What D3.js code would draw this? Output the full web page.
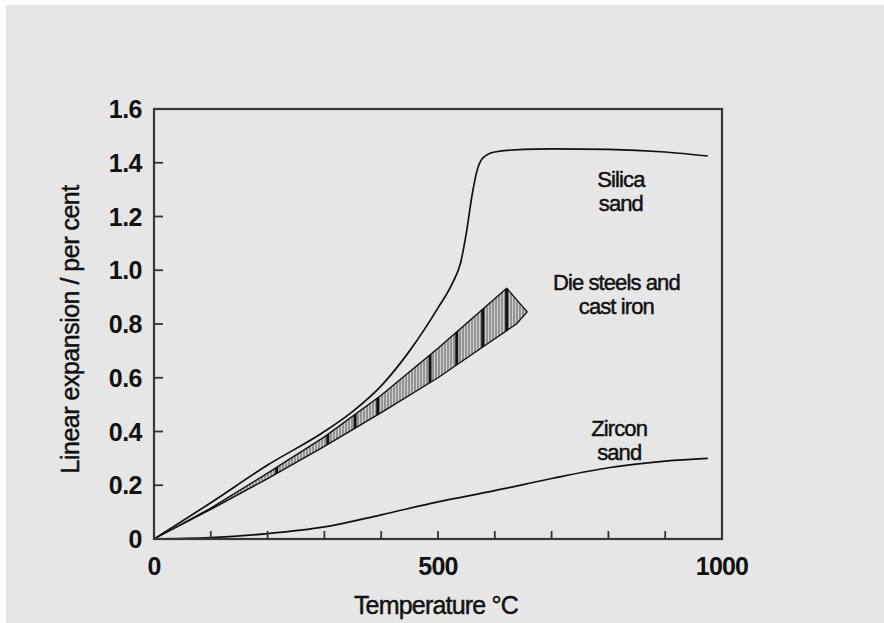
<!DOCTYPE html>
<html>
<head>
<meta charset="utf-8">
<script src="https://cdn.jsdelivr.net/npm/d3@7"></script>
<style>
  body { margin: 0; background: #fff; }
  svg { display: block; }
  text { font-family: "Liberation Sans", Arial, sans-serif; fill: #111; }
  .soft { stroke: #111; stroke-width: 0.45px; }
</style>
</head>
<body>
<svg id="chart"></svg>
<script>
// values (temperature in degC, expansion in per cent)
var silicaTemp = [0, 100, 200, 300, 350, 400, 450, 500, 525, 540, 550, 560, 570, 580, 600, 650, 700, 800, 900, 975]
var silicaExp  = [0, 0.135, 0.275, 0.40, 0.475, 0.57, 0.70, 0.86, 0.95, 1.03, 1.14, 1.28, 1.38, 1.42, 1.44, 1.45, 1.452, 1.45, 1.44, 1.425]

var zirconTemp = [0, 100, 200, 300, 400, 500, 600, 700, 800, 900, 975]
var zirconExp  = [0, 0.005, 0.02, 0.045, 0.09, 0.138, 0.18, 0.225, 0.265, 0.29, 0.30]

// die steels / cast iron band: upper edge, then the cap, then lower edge
var steelUpperTemp = [0, 100, 200, 300, 400, 500, 621]
var steelUpperExp  = [0, 0.115, 0.245, 0.38, 0.535, 0.71, 0.933]
var steelCapTemp   = [657, 638]
var steelCapExp    = [0.845, 0.80]
var steelLowerTemp = [600, 500, 400, 300, 200, 100, 0]
var steelLowerExp  = [0.745, 0.60, 0.47, 0.345, 0.225, 0.11, 0]
var darkStripeTemps = [216, 306, 354, 394, 486, 533, 579, 621]

var xTicks = [0, 100, 200, 300, 400, 500, 600, 700, 800, 900, 1000]
var xTickLabels = [0, 500, 1000]
var yTicks = [0, 0.2, 0.4, 0.6, 0.8, 1.0, 1.2, 1.4, 1.6]

var width = 884
var height = 623
var margin = {top: 109, right: 162, bottom: 84, left: 154}

var svg = d3.select('#chart')
            .attr('width', width)
            .attr('height', height)

svg.append('rect').attr('x', 6).attr('y', 5)
   .attr('width', width - 6).attr('height', height - 5)
   .attr('fill', '#e6e6e6')

var x = d3.scaleLinear().domain([0, 1000]).range([margin.left, width - margin.right])
var y = d3.scaleLinear().domain([0, 1.6]).range([height - margin.bottom, margin.top])

var zip = (ts, vs) => ts.map((t, i) => [t, vs[i]])
var line = d3.line().x(d => x(d[0])).y(d => y(d[1])).curve(d3.curveMonotoneX)

// hatch pattern for the steel band
var defs = svg.append('defs')
var pat = defs.append('pattern')
              .attr('id', 'hatch')
              .attr('patternUnits', 'userSpaceOnUse')
              .attr('width', 3).attr('height', 10)
pat.append('rect').attr('width', 3).attr('height', 10).attr('fill', '#d0d0d0')
pat.append('line').attr('x1', 1).attr('x2', 1).attr('y1', 0).attr('y2', 10)
   .attr('stroke', '#555').attr('stroke-width', 1)

var bandPts = zip(steelUpperTemp, steelUpperExp)
                .concat(zip(steelCapTemp, steelCapExp))
                .concat(zip(steelLowerTemp, steelLowerExp))
var bandPath = d3.line().x(d => x(d[0])).y(d => y(d[1]))(bandPts) + 'Z'

defs.append('clipPath').attr('id', 'bandClip').append('path').attr('d', bandPath)

svg.append('path').attr('d', bandPath).attr('fill', 'url(#hatch)')

svg.append('g').attr('clip-path', 'url(#bandClip)')
   .selectAll('rect').data(darkStripeTemps).enter().append('rect')
   .attr('x', d => x(d) - 1.5).attr('width', 3)
   .attr('y', y(1.0)).attr('height', y(0) - y(1.0))
   .attr('fill', '#111')

svg.append('path').attr('d', bandPath)
   .attr('fill', 'none').attr('stroke', '#111').attr('stroke-width', 1.4)
   .attr('stroke-linejoin', 'round')

// curves
svg.append('path').attr('d', line(zip(silicaTemp, silicaExp)))
   .attr('fill', 'none').attr('stroke', '#111').attr('stroke-width', 1.7)
svg.append('path').attr('d', line(zip(zirconTemp, zirconExp)))
   .attr('fill', 'none').attr('stroke', '#111').attr('stroke-width', 1.7)

// frame
svg.append('rect')
   .attr('x', x(0)).attr('y', y(1.6))
   .attr('width', x(1000) - x(0)).attr('height', y(0) - y(1.6))
   .attr('fill', 'none').attr('stroke', '#383838').attr('stroke-width', 2.2)

// inward ticks
svg.append('g').selectAll('line').data(xTicks.slice(1, -1)).enter().append('line')
   .attr('x1', d => x(d)).attr('x2', d => x(d))
   .attr('y1', y(0)).attr('y2', y(0) - 8)
   .attr('stroke', '#333').attr('stroke-width', 1.8)
svg.append('g').selectAll('line').data(yTicks.slice(1, -1)).enter().append('line')
   .attr('x1', x(0)).attr('x2', x(0) + 9)
   .attr('y1', d => y(d)).attr('y2', d => y(d))
   .attr('stroke', '#333').attr('stroke-width', 1.8)

// tick labels
svg.append('g').selectAll('text').data(yTicks).enter().append('text')
   .attr('x', x(0) - 12).attr('y', d => y(d)).attr('dy', '0.36em')
   .attr('text-anchor', 'end')
   .style('font-size', '25px').style('font-weight', 'bold').style('letter-spacing', '-0.5px')
   .text(d => d === 0 ? '0' : d.toFixed(1))
svg.append('g').selectAll('text').data(xTickLabels).enter().append('text')
   .attr('x', d => x(d)).attr('y', y(0) + 36)
   .attr('text-anchor', 'middle')
   .style('font-size', '25px').style('font-weight', 'bold').style('letter-spacing', '-0.8px')
   .text(d => d)

// axis titles
svg.append('text').attr('class', 'soft')
   .attr('x', x(500) - 2).attr('y', 614)
   .attr('text-anchor', 'middle')
   .style('font-size', '25px').style('letter-spacing', '-0.8px')
   .text('Temperature °C')
svg.append('text').attr('class', 'soft')
   .attr('transform', `translate(79, ${y(0.78)}) rotate(-90)`)
   .attr('text-anchor', 'middle')
   .style('font-size', '25px').style('letter-spacing', '-0.5px')
   .text('Linear expansion / per cent')

// curve labels, one text per line
function label(t, v, lines) {
    lines.forEach((s, i) => {
        svg.append('text').attr('class', 'soft').attr('text-anchor', 'middle')
           .style('font-size', '22px').style('letter-spacing', '-0.9px')
           .attr('x', x(t)).attr('y', y(v) + i * 24).text(s)
    })
}
label(822, 1.31, ['Silica', 'sand'])
label(814, 0.925, ['Die steels and', 'cast iron'])
label(819, 0.385, ['Zircon', 'sand'])
</script>
</body>
</html>
